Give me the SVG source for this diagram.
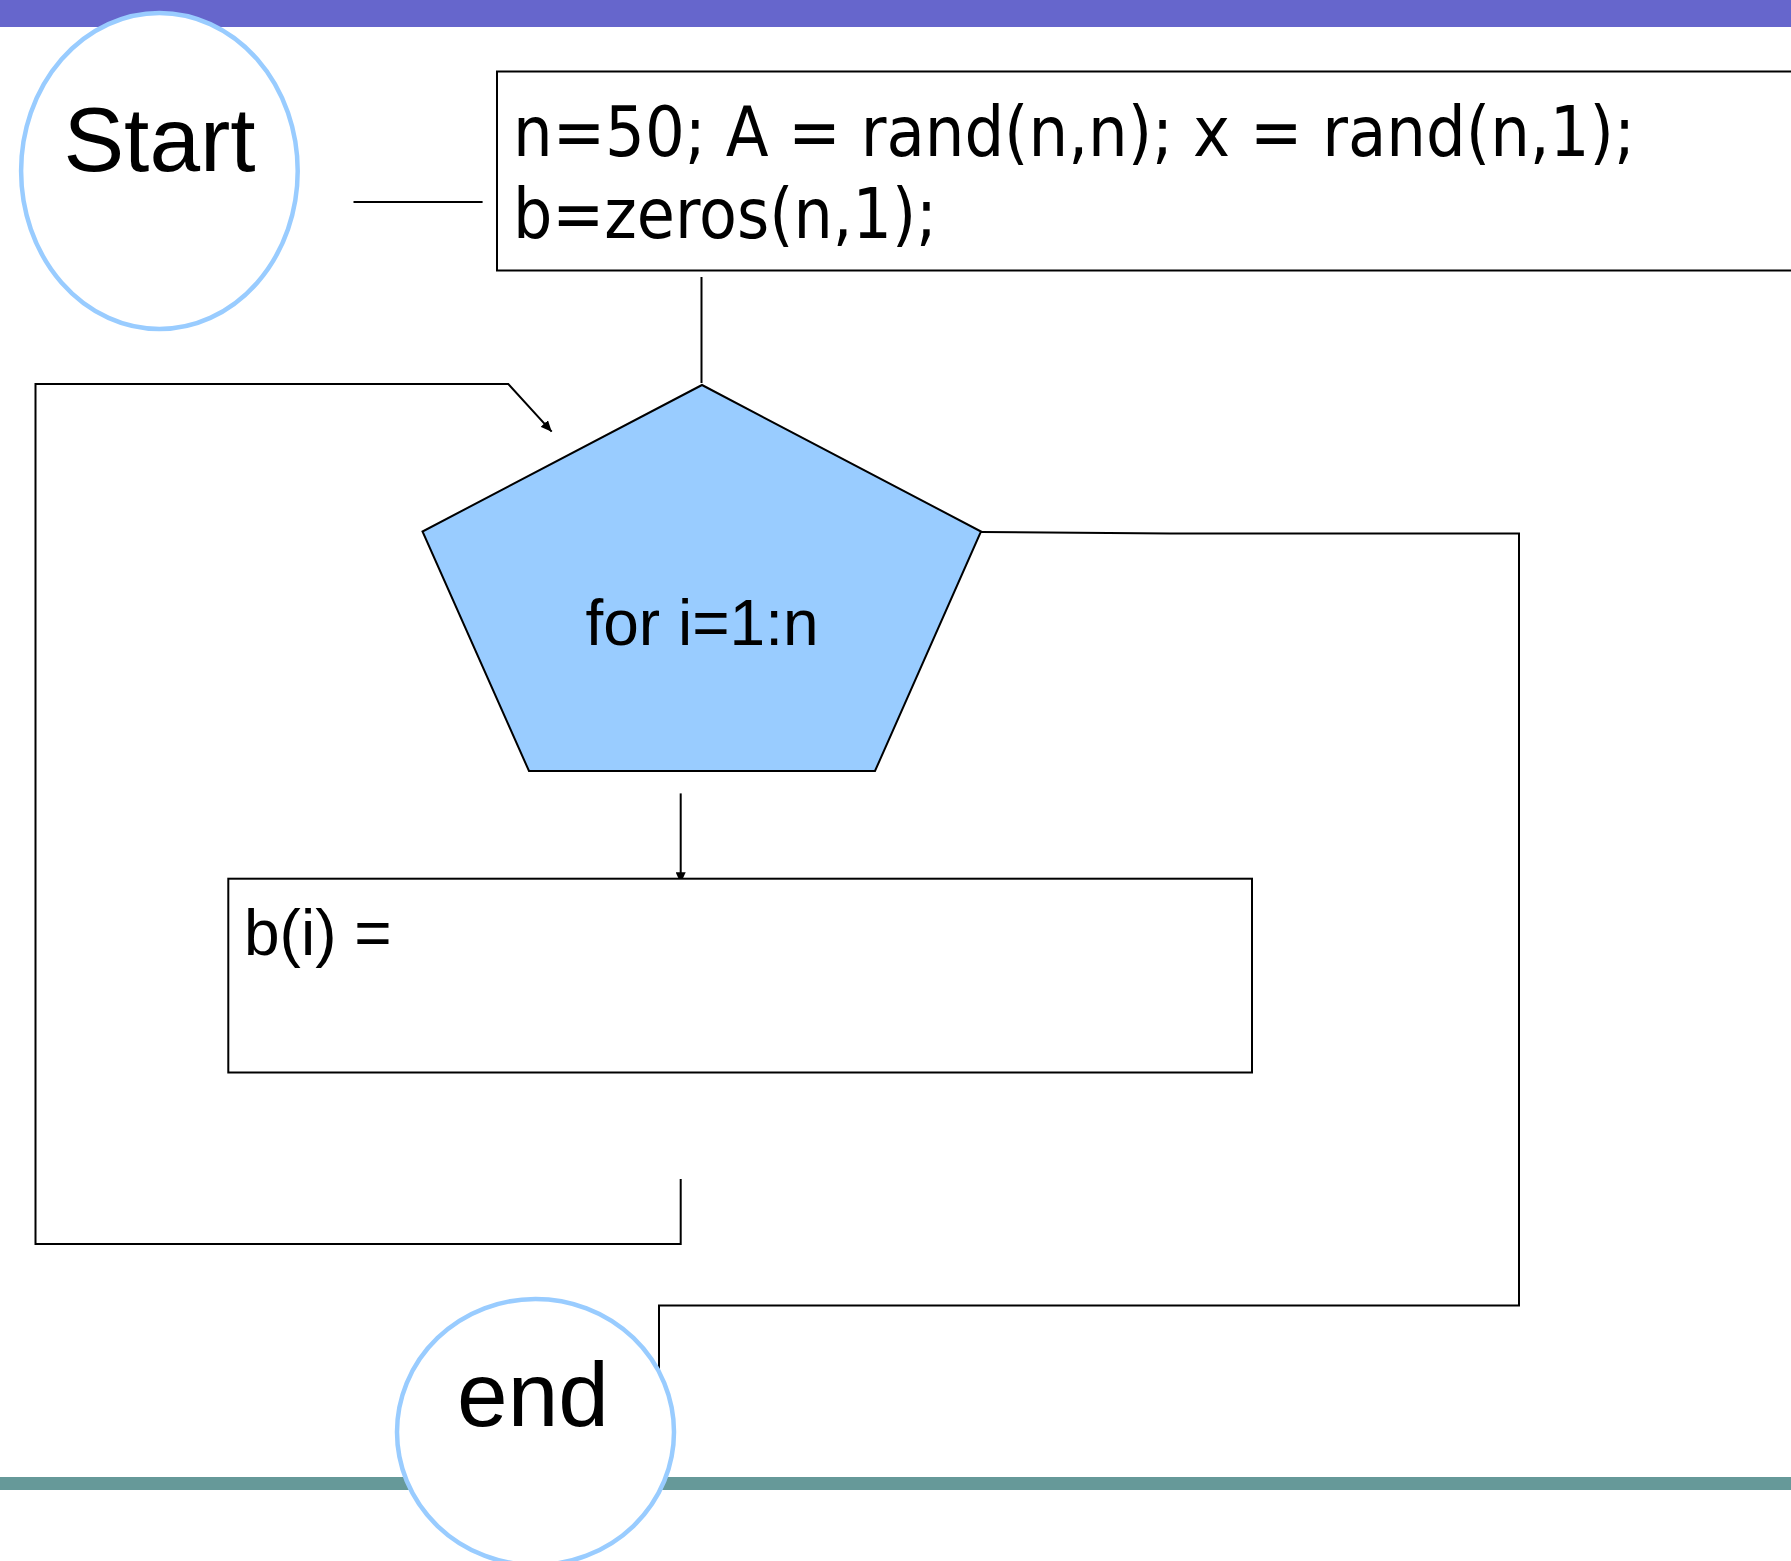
<svg xmlns="http://www.w3.org/2000/svg" width="1791" height="1561" viewBox="0 0 1791 1561">
<style>
.term{fill:#ffffff;stroke:#99CCFF;stroke-width:4.5}
.box{fill:#ffffff;stroke:#000000;stroke-width:2}
.pent{fill:#99CCFF;stroke:#000000;stroke-width:2}
.conn{fill:none;stroke:#000000;stroke-width:2}
.arial{font-family:"Liberation Sans",Arial,sans-serif;fill:#000000}
.code{font-family:"DejaVu Sans",Verdana,sans-serif;fill:#000000;font-size:69px}
</style>
<defs>
<marker id="arr" markerUnits="userSpaceOnUse" markerWidth="12" markerHeight="10" refX="11" refY="5" orient="auto">
<path d="M0,0 L11,5 L0,10 z" fill="#000000"/>
</marker>
</defs>
<rect x="0" y="0" width="1791" height="1561" fill="#ffffff"/>
<rect x="0" y="0" width="1791" height="27" fill="#6666CC"/>
<rect x="0" y="1477" width="1791" height="13" fill="#669999"/>

<g id="connectors">
<line class="conn" x1="353.5" y1="202" x2="482.6" y2="202"/>
<line class="conn" x1="701.5" y1="277" x2="701.5" y2="383"/>
<line class="conn" x1="680.7" y1="793.4" x2="680.7" y2="883.3" marker-end="url(#arr)"/>
<polyline class="conn" points="680.7,1179 680.7,1244 35.5,1244 35.5,384 508.3,384 551.7,431.7" marker-end="url(#arr)"/>
<polyline class="conn" points="981,532 1170,533.5 1519,533.5 1519,1305.5 659,1305.5 659,1385"/>
</g>

<g id="start">
<ellipse class="term" cx="159.4" cy="171" rx="138.3" ry="158"/>
<text class="arial" x="159.5" y="171" font-size="91" text-anchor="middle">Start</text>
</g>

<g id="init">
<rect class="box" x="497" y="71.5" width="1400" height="199"/>
<text class="code" x="513" y="156" textLength="1122" lengthAdjust="spacingAndGlyphs">n=50; A = rand(n,n); x = rand(n,1);</text>
<text class="code" x="513" y="238" textLength="424" lengthAdjust="spacingAndGlyphs">b=zeros(n,1);</text>
</g>

<g id="loop">
<polygon class="pent" points="702,385 981,531.5 875,771 529,771 422.5,531.5"/>
<text class="arial" x="702" y="644.5" font-size="64" text-anchor="middle">for i=1:n</text>
</g>

<g id="body">
<rect class="box" x="228.3" y="878.7" width="1023.7" height="193.8"/>
<text class="arial" x="244" y="955" font-size="64">b(i) =</text>
</g>

<g id="end">
<ellipse class="term" cx="535.5" cy="1432" rx="138.5" ry="133"/>
<text class="arial" x="533" y="1426" font-size="91" text-anchor="middle">end</text>
</g>
</svg>
